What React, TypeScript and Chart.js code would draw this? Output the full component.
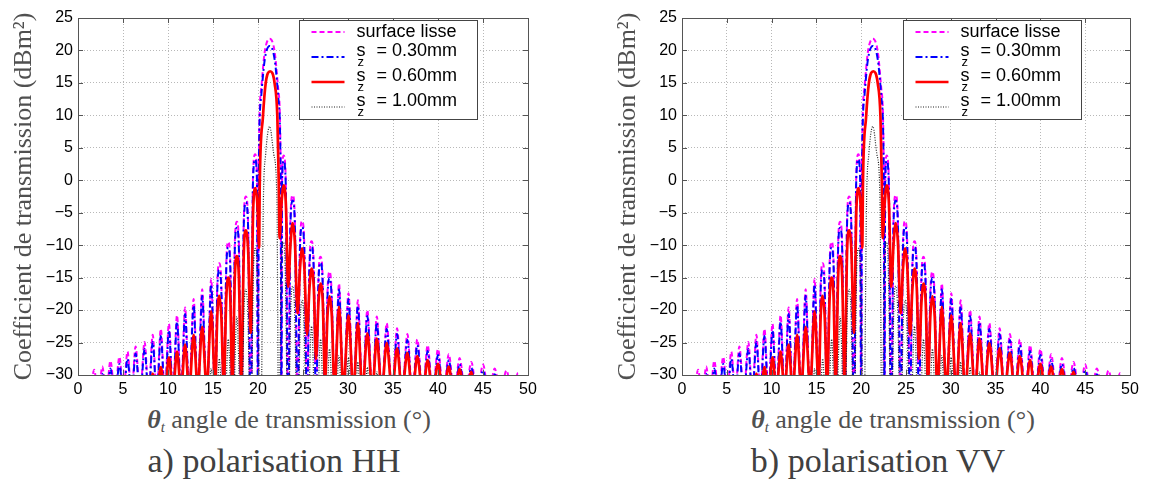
import React, { useEffect, useRef } from "react";
import { Chart, registerables } from "chart.js";

Chart.register(...registerables);

// ---------- data ----------
// far-left side-lobes: (null, peak) pairs, angle in degrees
const farLeftAngles = [
  1.35, 1.8, 2.25, 2.7, 3.15, 3.6, 4.1, 4.6, 5.05, 5.5, 5.95, 6.4, 6.9, 7.4, 7.85, 8.3,
  8.75, 9.2, 9.65, 10.1, 10.55, 11.0, 11.45, 11.9, 12.35, 12.85, 13.3, 13.8, 14.3, 14.8,
];
// far-right side-lobes: (peak, null) pairs
const farRightAngles = [
  29.0, 29.5, 30.05, 30.6, 31.1, 31.6, 32.15, 32.7, 33.2, 33.75, 34.3, 34.9, 35.45, 36.0, 36.6, 37.15, 37.7, 38.3,
  38.85, 39.4, 40.0, 40.6, 41.2, 41.8, 42.4, 43.05, 43.7, 44.35, 45.0, 45.65, 46.3, 46.95, 47.6, 48.25, 48.9, 49.55,
];
// central region (15°–28.5°), traced with lobe shoulders
const centerAnglesSmooth = [
  15.25, 15.48, 15.7, 15.92, 16.2, 16.48, 16.7, 16.92, 17.15, 17.43, 17.65, 17.87, 18.15, 18.43, 18.65, 18.88,
  19.2, 19.45, 19.68, 19.88, 20.0, 20.08, 20.35, 20.75, 21.3, 21.85, 22.25, 22.52, 22.6, 22.68, 22.85, 23.07,
  23.35, 23.62, 23.85, 24.08, 24.4, 24.67, 24.9, 25.13, 25.45, 25.72, 25.95, 26.18, 26.45, 26.72, 26.95, 27.18,
  27.45, 27.72, 27.95, 28.18, 28.5,
];
const centerAnglesSz060 = [
  15.25, 15.48, 15.7, 15.92, 16.2, 16.48, 16.7, 16.92, 17.15, 17.43, 17.65, 17.87, 18.15, 18.43, 18.65, 18.9,
  19.2, 19.47, 19.72, 19.95, 20.12, 20.2, 20.55, 20.85, 21.35, 21.85, 22.15, 22.3, 22.4, 22.6, 22.85, 23.1,
  23.35, 23.62, 23.85, 24.1, 24.4, 24.67, 24.9, 25.15, 25.45, 25.72, 25.95, 26.2, 26.45, 26.72, 26.95, 27.2,
  27.45, 27.72, 27.95, 28.2, 28.5,
];
const centerAnglesSz100 = [
  15.25, 15.7, 16.2, 16.7, 17.15, 17.65, 18.15, 18.45, 18.65, 18.85, 19.2, 19.5, 19.7, 19.9, 20.3, 20.6, 20.85,
  21.3, 21.75, 22.1, 22.3, 22.6, 22.8, 23.0, 23.35, 23.65, 23.85, 24.05, 24.4, 24.7, 24.9, 25.1, 25.45, 25.95,
  26.45, 26.95, 27.45, 27.95, 28.5,
];

// surface lisse (dBm²)
const lisseFarLeft = [
  -33.5, -29.2, -33.5, -28.7, -33, -27.8, -33, -27.2, -33, -26.4, -33, -25.6, -33, -24.9, -33, -23.8,
  -33, -22.9, -33, -22.1, -33, -20.8, -33, -19.6, -33, -18.3, -33.5, -16.8, -34, -15.2,
];
const lisseCenter = [
  -34, -15.8, -12.8, -15.8, -35, -12.5, -9.5, -12.5, -36, -9.4, -6.4, -9.4, -37, -5.5, -2.5, -5.5,
  -38, 1.0, 4.0, 1.0, -36, 2, 14, 19.8, 21.8, 19.8, 14, 2, -36, 0.8, 3.8, 0.8,
  -37, -5.3, -2.3, -5.3, -35, -9.3, -6.3, -9.3, -34, -12.4, -9.4, -12.4, -34, -14.8, -11.8, -14.8,
  -33.5, -17.1, -14.1, -17.1, -33.5,
];
const lisseFarRight = [
  -15.9, -33.5, -17.4, -33.5, -18.5, -33, -20.0, -33, -21.0, -33, -22.0, -33, -22.8, -33, -23.7, -33, -24.5, -33,
  -25.4, -33, -26.0, -33, -26.8, -33, -27.4, -33, -28.0, -33, -28.4, -33, -29.0, -33, -29.3, -33, -29.7, -33,
];

// s_z = 0.30 mm
const sz030FarLeft = [
  -34, -30.4, -34, -29.8, -34, -29.0, -34, -28.3, -33.5, -27.5, -33.5, -26.7, -33.5, -26.0, -33.5, -24.9,
  -33.5, -24.0, -33.5, -23.1, -33.5, -21.8, -33.5, -20.6, -33.5, -19.3, -34, -17.8, -34.5, -16.1,
];
const sz030Center = [
  -34.5, -16.8, -13.8, -16.8, -35.5, -13.4, -10.4, -13.4, -36.5, -10.3, -7.3, -10.3, -37.5, -6.4, -3.4, -6.4,
  -38.5, 0.2, 3.2, 0.2, -37, 0, 12.8, 18.6, 20.7, 18.6, 12.8, 0, -37, 0, 3.0, 0,
  -37.5, -6.1, -3.1, -6.1, -35.5, -10.2, -7.2, -10.2, -34.5, -13.3, -10.3, -13.3, -34.5, -15.7, -12.7, -15.7,
  -34, -18.0, -15.0, -18.0, -34,
];
const sz030FarRight = [
  -16.8, -34, -18.3, -34, -19.4, -33.5, -20.9, -33.5, -21.9, -33.5, -22.9, -33.5, -23.7, -33.5, -24.6, -33.5, -25.4, -33.5,
  -26.3, -33.5, -26.9, -33.5, -27.7, -33.5, -28.3, -33.5, -28.9, -33.5, -29.3, -33.5, -29.9, -33.5, -30.2, -33.5, -30.6, -33.5,
];

// s_z = 0.60 mm
const sz060FarLeft = [
  -38, -34, -38, -33.5, -38, -33, -38, -32.5, -37, -32, -37, -31.5, -37, -31, -35, -29.8,
  -34, -28.8, -33, -27.3, -32.5, -26.4, -32.5, -25.3, -32.5, -23.8, -32, -22.6, -32, -20.2,
];
const sz060Center = [
  -31.5, -20.8, -17.8, -20.8, -31.5, -18.0, -15.0, -18.0, -32, -14.7, -11.7, -14.7, -31, -10.7, -7.7, -10.7,
  -23.5, -4.2, -1.2, -4.2, -10.4, 0, 9.8, 14.9, 16.8, 14.9, 9.8, 0, -8.9, -3.8, -0.8, -3.8,
  -16.4, -9.6, -6.6, -9.6, -20.5, -13.5, -10.5, -13.5, -23.8, -16.6, -13.6, -16.6, -27.5, -18.9, -15.9, -18.9,
  -31, -20.9, -17.9, -20.9, -32,
];
const sz060FarRight = [
  -19.5, -32, -20.8, -32.5, -22.0, -32.5, -23.6, -32.5, -24.4, -32.5, -25.1, -32.5, -25.9, -32.5, -26.6, -33, -27.1, -33,
  -27.7, -33, -28.3, -33, -28.7, -34, -29.1, -34, -29.5, -35, -30.2, -35, -30.6, -35, -31.0, -35, -31.4, -36,
];

// s_z = 1.00 mm
const sz100FarLeft = [
  -45, -41, -45, -41, -45, -40, -45, -40, -45, -39, -45, -39, -45, -38, -45, -37,
  -45, -36, -45, -35, -44, -34.5, -44, -34, -43, -33, -42, -31.5, -42, -29,
];
const sz100Center = [
  -41, -27.5, -41, -24.5, -40, -21.0, -40, -19.8, -16.8, -19.8, -40, -13.5, -10.5, -13.5, -40, -3, 4,
  8.3, 4, -3, -40, -12.5, -9.5, -12.5, -40, -19.3, -16.3, -19.3, -40, -21.5, -18.5, -21.5, -41, -22.5,
  -41, -24.5, -42, -26.0, -42,
];
const sz100FarRight = [
  -27.0, -43, -27.3, -43, -28.0, -44, -28.8, -44, -29.5, -45, -30.5, -45, -31.5, -45, -32, -45, -33, -45,
  -34, -45, -35, -45, -35.5, -45, -36, -45, -37, -45, -37.5, -45, -38, -45, -38.5, -45, -39, -45,
];

const xTickValues = [0, 5, 10, 15, 20, 25, 30, 35, 40, 45, 50];
const yTickValues = [-30, -25, -20, -15, -10, -5, 0, 5, 10, 15, 20, 25];

const legendLabels = ["surface lisse", "s_z = 0.30mm", "s_z = 0.60mm", "s_z = 1.00mm"];
const yTitle = "Coefficient de transmission (dBm²)";
const captions = ["a) polarisation HH", "b) polarisation VV"];

// ---------- styles ----------
const SERIF = '"Liberation Serif", "DejaVu Serif", serif';
const SANS = '"Liberation Sans", Arial, sans-serif';
const TEXT_GREY = "#505050";

const seriesStyles = [
  { color: "#ff00ff", dash: [5, 3], width: 2, order: 3 },
  { color: "#0000ff", dash: [7, 3, 2, 3], width: 2, order: 2 },
  { color: "#ff0000", dash: [] as number[], width: 2.7, order: 1 },
  { color: "#222222", dash: [1, 1.5], width: 1.2, order: 0 },
];

const seriesData = [
  { farLeft: lisseFarLeft, centerAngles: centerAnglesSmooth, center: lisseCenter, farRight: lisseFarRight },
  { farLeft: sz030FarLeft, centerAngles: centerAnglesSmooth, center: sz030Center, farRight: sz030FarRight },
  { farLeft: sz060FarLeft, centerAngles: centerAnglesSz060, center: sz060Center, farRight: sz060FarRight },
  { farLeft: sz100FarLeft, centerAngles: centerAnglesSz100, center: sz100Center, farRight: sz100FarRight },
];

type SeriesDef = { farLeft: number[]; centerAngles: number[]; center: number[]; farRight: number[] };

function seriesPoints(s: SeriesDef) {
  const pts: { x: number; y: number }[] = [];
  farLeftAngles.forEach((a, i) => pts.push({ x: a, y: s.farLeft[i] }));
  s.centerAngles.forEach((a, i) => pts.push({ x: a, y: s.center[i] }));
  farRightAngles.forEach((a, i) => pts.push({ x: a, y: s.farRight[i] }));
  return pts;
}

const fmt = (v: number) => (v < 0 ? "\u2212" + Math.abs(v) : String(v));

const framePlugin = {
  id: "matlabFrame",
  afterDatasetsDraw(chart: any) {
    const { ctx, chartArea: ca, scales } = chart;
    ctx.save();
    ctx.strokeStyle = "#555";
    ctx.lineWidth = 1;
    ctx.setLineDash([]);
    ctx.beginPath();
    xTickValues.forEach((v) => {
      const px = Math.round(scales.x.getPixelForValue(v)) + 0.5;
      ctx.moveTo(px, ca.bottom);
      ctx.lineTo(px, ca.bottom - 5);
      ctx.moveTo(px, ca.top);
      ctx.lineTo(px, ca.top + 5);
    });
    yTickValues.forEach((v) => {
      const py = Math.round(scales.y.getPixelForValue(v)) + 0.5;
      ctx.moveTo(ca.left, py);
      ctx.lineTo(ca.left + 5, py);
      ctx.moveTo(ca.right, py);
      ctx.lineTo(ca.right - 5, py);
    });
    ctx.stroke();
    ctx.strokeRect(Math.round(ca.left) + 0.5, Math.round(ca.top) + 0.5, Math.round(ca.right - ca.left), Math.round(ca.bottom - ca.top));

    // legend box
    const bx = Math.round(ca.left + 221) + 0.5;
    const by = Math.round(ca.top + 2) + 0.5;
    const bw = 178;
    const bh = 99;
    ctx.fillStyle = "#ffffff";
    ctx.fillRect(bx, by, bw, bh);
    ctx.strokeStyle = "#444";
    ctx.lineWidth = 1;
    ctx.strokeRect(bx, by, bw, bh);
    legendLabels.forEach((label, i) => {
      const st = seriesStyles[i];
      const ly = by + 11.5 + 25 * i;
      ctx.save();
      ctx.strokeStyle = st.color;
      ctx.lineWidth = Math.min(st.width, 2.5);
      ctx.setLineDash(st.dash);
      ctx.beginPath();
      ctx.moveTo(bx + 12, ly);
      ctx.lineTo(bx + 45, ly);
      ctx.stroke();
      ctx.restore();
      ctx.fillStyle = "#000";
      ctx.textBaseline = "middle";
      ctx.textAlign = "left";
      const tx = bx + 57;
      if (label.indexOf("_") >= 0) {
        const main = label.split("_")[0];
        const sub = label.split("_")[1].charAt(0);
        const rest = label.split("_")[1].slice(1).trim();
        ctx.font = "18px " + SANS;
        ctx.fillText(main, tx, ly - 6);
        ctx.fillText(rest, tx + 20, ly - 6);
        ctx.font = "13px " + SANS;
        ctx.fillText(sub, tx + 1, ly + 5);
      } else {
        ctx.font = "18px " + SANS;
        ctx.fillText(label, tx, ly);
      }
    });
    ctx.restore();
  },
};

type PanelDef = { caption: string; left: number; width: number; plotRight: number };

const panels: PanelDef[] = [
  { caption: captions[0], left: 0, width: 575, plotRight: 528 },
  { caption: captions[1], left: 604, width: 546, plotRight: 526 },
];

const CANVAS_H = 400;

function ChartPanel({ panel }: { panel: PanelDef }) {
  const ref = useRef<HTMLCanvasElement | null>(null);
  useEffect(() => {
    if (!ref.current) return;
    const datasets = seriesData.map((s, i) => ({
      label: legendLabels[i],
      data: seriesPoints(s),
      borderColor: seriesStyles[i].color,
      borderWidth: seriesStyles[i].width,
      borderDash: seriesStyles[i].dash,
      borderCapStyle: "butt" as const,
      borderJoinStyle: "round" as const,
      cubicInterpolationMode: "monotone" as const,
      pointRadius: 0,
      fill: false,
      order: seriesStyles[i].order,
      clip: 0,
    }));
    const chart = new Chart(ref.current, {
      type: "line",
      data: { datasets },
      options: {
        responsive: false,
        animation: false,
        events: [],
        layout: { padding: { left: 0, top: 18, right: panel.width - panel.plotRight, bottom: 0 } },
        plugins: { legend: { display: false }, tooltip: { enabled: false } },
        scales: {
          x: {
            type: "linear",
            min: 0,
            max: 50,
            afterBuildTicks: (s: any) => {
              s.ticks = xTickValues.map((v) => ({ value: v }));
            },
            afterFit: (s: any) => {
              s.height = 25;
            },
            grid: { color: "#b8b8b8", lineWidth: 1, drawTicks: false },
            border: { display: false, dash: [1, 2] },
            ticks: {
              padding: 5,
              color: "#000",
              autoSkip: false,
              maxRotation: 0,
              font: { family: SANS, size: 16 },
              callback: (v: any) => fmt(Number(v)),
            },
          },
          y: {
            type: "linear",
            min: -30,
            max: 25,
            afterBuildTicks: (s: any) => {
              s.ticks = yTickValues.map((v) => ({ value: v }));
            },
            afterFit: (s: any) => {
              s.width = 78;
            },
            grid: { color: "#b8b8b8", lineWidth: 1, drawTicks: false },
            border: { display: false, dash: [1, 2] },
            ticks: {
              padding: 5,
              color: "#000",
              autoSkip: false,
              font: { family: SANS, size: 16 },
              callback: (v: any) => fmt(Number(v)),
            },
            title: {
              display: true,
              text: yTitle,
              color: TEXT_GREY,
              font: { family: SERIF, size: 26, weight: "normal" },
              padding: { top: 9, bottom: 0 },
            },
          },
        },
      },
      plugins: [framePlugin],
    } as any);
    return () => chart.destroy();
  }, [panel]);

  const titleCenter = 289;
  const captionCenter = 274;
  return (
    <div style={{ position: "absolute", left: panel.left, top: 0, width: panel.width, height: 485 }}>
      <canvas ref={ref} width={panel.width} height={CANVAS_H} style={{ display: "block", width: panel.width, height: CANVAS_H }} />
      <div
        style={{
          position: "absolute",
          left: titleCenter - 220,
          width: 440,
          top: 405,
          lineHeight: "30px",
          textAlign: "center",
          fontFamily: SERIF,
          fontSize: 26,
          color: TEXT_GREY,
          whiteSpace: "nowrap",
        }}
      >
        <b>
          <i>θ</i>
        </b>
        <sub style={{ fontSize: 15, fontStyle: "italic", verticalAlign: "-4px" }}>t</sub> angle de transmission (°)
      </div>
      <div
        style={{
          position: "absolute",
          left: captionCenter - 220,
          width: 440,
          top: 440,
          lineHeight: "42px",
          textAlign: "center",
          fontFamily: SERIF,
          fontSize: 34,
          color: "#404040",
          whiteSpace: "nowrap",
        }}
      >
        {panel.caption}
      </div>
    </div>
  );
}

export default function App() {
  return (
    <div style={{ position: "absolute", left: 0, top: 0, width: 1150, height: 485, background: "#fff", overflow: "hidden" }}>
      {panels.map((p) => (
        <ChartPanel key={p.caption} panel={p} />
      ))}
    </div>
  );
}
